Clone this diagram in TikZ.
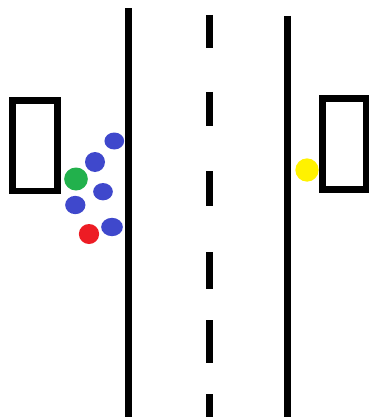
\documentclass[tikz,border=0pt]{standalone}
\usetikzlibrary{shapes.geometric}
\definecolor{pblue}{HTML}{3F48CC}
\definecolor{pgreen}{HTML}{22B14C}
\definecolor{pred}{HTML}{ED1C24}
\definecolor{pyellow}{HTML}{FFF200}
\begin{document}
\begin{tikzpicture}[x=1pt,y=-1pt,
  road/.style={line width=7pt,black},
  house/.style={draw=black,line width=6.6pt,fill=white,inner sep=0pt,outer sep=0pt},
  dot/.style={ellipse,inner sep=0pt,outer sep=0pt,draw=none},
]
\useasboundingbox[fill=white] (0,0) rectangle (370,417);
% roads
\coordinate (lt) at (128.7,8.5);
\coordinate (lb) at (128.7,417);
\coordinate (rt) at (287.3,16);
\coordinate (rb) at (287.3,417);
\draw[road] (lt) -- (lb);
\draw[road] (rt) -- (rb);
% centre dashes
\foreach \a/\b [count=\i] in {15/48,92/126,171/206,252/289,320/363,394/417}{
  \coordinate (d\i a) at (209,\a);
  \coordinate (d\i b) at (209,\b);
  \draw[road] (d\i a) -- (d\i b);
}
% houses
\node[house,minimum width=45.4pt,minimum height=90.3pt] (hl) at (35,145.85) {};
\node[house,minimum width=43.5pt,minimum height=91.2pt] (hr) at (344.25,143.9) {};
% people
\node[dot,fill=pblue,minimum width=19.7pt,minimum height=17pt] (b1) at (114.3,141) {};
\node[dot,fill=pblue,minimum width=20pt,minimum height=20pt] (b2) at (95,162) {};
\node[dot,fill=pgreen,minimum width=23.7pt,minimum height=23pt] (g) at (76,179) {};
\node[dot,fill=pblue,minimum width=19.7pt,minimum height=17.3pt] (b3) at (103,191.7) {};
\node[dot,fill=pblue,minimum width=20.3pt,minimum height=18.3pt] (b4) at (75.3,205) {};
\node[dot,fill=pred,minimum width=20.3pt,minimum height=20pt] (r) at (89,234) {};
\node[dot,fill=pblue,minimum width=21.7pt,minimum height=18.3pt] (b5) at (112,227) {};
\node[dot,fill=pyellow,minimum width=23.3pt,minimum height=23.3pt] (y) at (307,170) {};
\end{tikzpicture}
\end{document}
